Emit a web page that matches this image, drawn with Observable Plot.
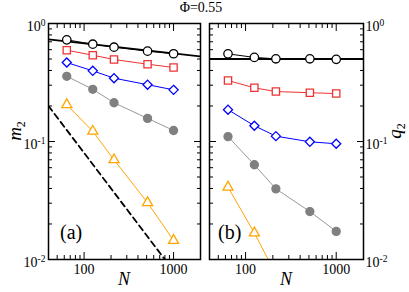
<!DOCTYPE html>
<html>
<head>
<meta charset="utf-8">
<script src="https://cdn.jsdelivr.net/npm/d3@7"></script>
<script src="https://cdn.jsdelivr.net/npm/@observablehq/plot@0.6"></script>
<style>
  html, body { margin: 0; padding: 0; background: #fff; }
  #wrap { position: relative; width: 409px; height: 292px; overflow: hidden; background: #fff; font-family: "Liberation Serif", "Times New Roman", serif; }
  #wrap svg { position: absolute; top: 0; }
  .lab { position: absolute; white-space: nowrap; color: #000; line-height: 1; font-family: "Liberation Serif", "Times New Roman", serif; }
</style>
</head>
<body>
<div id="wrap"></div>
<script>
// ---------------- data ----------------
const N = [64, 125, 216, 512, 1000];

const m2Black  = [0.727, 0.668, 0.630, 0.583, 0.554];
const m2Red    = [0.594, 0.539, 0.495, 0.452, 0.424];
const m2Blue   = [0.467, 0.397, 0.344, 0.303, 0.274];
const m2Gray   = [0.357, 0.277, 0.213, 0.157, 0.124];
const m2Orange = [0.205, 0.122, 0.070, 0.0303, 0.0145];

const q2Black  = [0.553, 0.516, 0.502, 0.502, 0.497];
const q2Red    = [0.329, 0.285, 0.265, 0.259, 0.255];
const q2Blue   = [0.186, 0.136, 0.111, 0.0994, 0.0957];
const q2Gray   = [0.110, 0.0635, 0.0397, 0.0255, 0.0173];
const q2Orange = [0.041, 0.0168, 0.0075];

// reference lines
const fitN = [40, 2000];
const fitM = [0.735, 0.525];
const dashN = [40, 800];
const dashM = [0.2, 0.01];
const q2LineN = [40, 2000];
const q2LineV = [0.5, 0.5];

// ticks
const yMajor = [1, 0.1, 0.01];
const yTickText = ["10^0", "10^-1", "10^-2"];
const yMinor = [0.02,0.03,0.04,0.05,0.06,0.07,0.08,0.09,0.2,0.3,0.4,0.5,0.6,0.7,0.8,0.9];
const xMajor = [100, 1000];
const xTickText = ["100", "1000"];
const xMinor = [40,50,60,70,80,90,200,300,400,500,600,700,800,900,2000];

const title = "Φ=0.55";

const FONT = '"Liberation Serif", "Times New Roman", serif';

// ---------------- helpers ----------------
const toRows = (xs, ys) => ys.map((v, i) => ({N: xs[i], v}));
const styles = [
  {color: "#000000", symbol: "circle",    fill: "white",   r: 4.2},
  {color: "#ee3333", symbol: "square",    fill: "white",   r: 4.1},
  {color: "#0000ff", symbol: "diamond2",  fill: "white",   r: 4.1},
  {color: "#808080", symbol: "circle",    fill: "#808080", r: 4.0, line: "#999999"},
  {color: "#ffa500", symbol: "triangle2", fill: "white",   r: 4.8}
];
const yLabelMap = new Map(yMajor.map((d, i) => [d, yTickText[i]]));
const xLabelMap = new Map(xMajor.map((d, i) => [d, xTickText[i]]));

function seriesMarks(seriesList) {
  const marks = [];
  seriesList.forEach((vals, k) => {
    const s = styles[k];
    const rows = toRows(N, vals);
    marks.push(Plot.line(rows, {x: "N", y: "v", stroke: s.line || s.color, strokeWidth: 1, clip: true}));
    marks.push(Plot.dot(rows, {x: "N", y: "v", symbol: () => s.symbol, r: s.r, stroke: s.color, fill: s.fill, strokeWidth: 1.3, clip: true}));
  });
  return marks;
}

function axisMarks(side) {
  const none = () => "";
  return [
    Plot.axisY({anchor: "left",  ticks: yMajor, tickSize: -7, tickFormat: none, label: null}),
    Plot.axisY({anchor: "left",  ticks: yMinor, tickSize: -4, tickFormat: none, label: null}),
    Plot.axisY({anchor: "right", ticks: yMajor, tickSize: -7, tickFormat: none, label: null}),
    Plot.axisY({anchor: "right", ticks: yMinor, tickSize: -4, tickFormat: none, label: null}),
    Plot.axisX({anchor: "bottom", ticks: xMajor, tickSize: -7, tickFormat: none, label: null}),
    Plot.axisX({anchor: "bottom", ticks: xMinor, tickSize: -4, tickFormat: none, label: null}),
    Plot.axisX({anchor: "top", ticks: xMajor, tickSize: -7, tickFormat: none, label: null}),
    Plot.axisX({anchor: "top", ticks: xMinor, tickSize: -4, tickFormat: none, label: null}),
    Plot.axisY({anchor: side, ticks: yMajor, tickSize: 0, tickPadding: side === "left" ? 3 : 2, dy: 3,
                tickFormat: d => yLabelMap.get(d), label: null, fontSize: 14}),
    Plot.axisX({anchor: "bottom", ticks: xMajor, tickSize: 0, tickPadding: 5,
                tickFormat: d => xLabelMap.get(d), label: null, fontSize: 14})
  ];
}

function supify(svg) {
  d3.select(svg).selectAll('g[aria-label="y-axis tick label"] text').each(function () {
    const t = this.textContent;
    const parts = t.split("^");
    if (parts.length < 2) return;
    const s = d3.select(this);
    s.text(parts[0]);
    s.append("tspan").attr("dy", "-0.5em").attr("font-size", "0.68em").text(parts[1]);
  });
  d3.select(svg).selectAll("text").style("font-family", FONT);
}

const common = {
  height: 292,
  marginTop: 23,
  marginBottom: 33,
  x: {type: "log", domain: [40, 2000]},
  y: {type: "log", domain: [0.01, 1]},
  style: {fontFamily: FONT, fontSize: "14px", color: "#000", background: "transparent", overflow: "visible"}
};

// ---------------- left panel ----------------
const left = Plot.plot({
  ...common,
  width: 205,
  marginLeft: 48,
  marginRight: 5,
  marks: [
    Plot.line(toRows(dashN, dashM), {x: "N", y: "v", stroke: "black", strokeWidth: 1.8, strokeDasharray: "6,4", clip: true}),
    Plot.line(toRows(fitN, fitM), {x: "N", y: "v", stroke: "black", strokeWidth: 1.8, clip: true}),
    ...seriesMarks([m2Black, m2Red, m2Blue, m2Gray, m2Orange]),
    ...axisMarks("left"),
    Plot.frame({stroke: "black", strokeWidth: 1.5})
  ]
});
supify(left);
left.style.left = "0px";

// ---------------- right panel ----------------
const right = Plot.plot({
  ...common,
  width: 204,
  marginLeft: 4,
  marginRight: 46,
  marks: [
    Plot.line(toRows(q2LineN, q2LineV), {x: "N", y: "v", stroke: "black", strokeWidth: 1.8, clip: true}),
    ...seriesMarks([q2Black, q2Red, q2Blue, q2Gray, q2Orange]),
    ...axisMarks("right"),
    Plot.frame({stroke: "black", strokeWidth: 1.5})
  ]
});
supify(right);
right.style.left = "205px";

const wrap = document.getElementById("wrap");
wrap.appendChild(left);
wrap.appendChild(right);

// ---------------- text labels ----------------
function addLabel(html, css) {
  const d = document.createElement("div");
  d.className = "lab";
  d.innerHTML = html;
  Object.assign(d.style, css);
  wrap.appendChild(d);
}
addLabel(title, {left: "201px", top: "1px", transform: "translateX(-50%)", fontSize: "14px"});
addLabel('<i>m</i><sub style="font-size:12px">2</sub>', {left: "16px", top: "131px", transform: "translate(-50%,-50%) rotate(-90deg)", fontSize: "19px"});
addLabel('<i>q</i><sub style="font-size:12px">2</sub>', {left: "396px", top: "131px", transform: "translate(-50%,-50%) rotate(-90deg)", fontSize: "19px"});
addLabel('<i>N</i>', {left: "124px", top: "270px", transform: "translateX(-50%)", fontSize: "18px"});
addLabel('<i>N</i>', {left: "286px", top: "270px", transform: "translateX(-50%)", fontSize: "18px"});
addLabel('(a)', {left: "60px", top: "222px", fontSize: "20px"});
addLabel('(b)', {left: "218px", top: "222px", fontSize: "20px"});
</script>
</body>
</html>
